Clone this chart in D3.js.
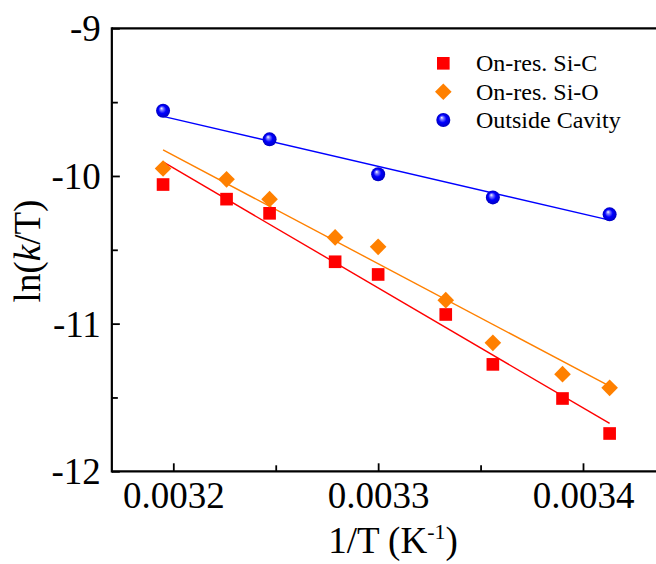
<!DOCTYPE html>
<html>
<head>
<meta charset="utf-8">
<script src="https://cdn.jsdelivr.net/npm/d3@7"></script>
<style>
  html, body { margin: 0; padding: 0; background: #fff; }
  svg { display: block; }
  text { font-family: "Liberation Serif", "Times New Roman", serif; fill: #000; }
</style>
</head>
<body>
<svg id="chart" width="656" height="564"></svg>
<script>
// ---- data ----
const invT = [0.003195, 0.003226, 0.003247, 0.003279, 0.003300, 0.003333, 0.003356, 0.003390, 0.003413];
const siC  = [-10.058, -10.157, -10.253, -10.581, -10.667, -10.938, -11.276, -11.507, -11.744];
const siO  = [-9.949, -10.023, -10.157, -10.416, -10.480, -10.841, -11.130, -11.342, -11.435];
const outsideX = [0.003195, 0.003247, 0.003300, 0.003356, 0.003413];
const outside  = [-9.558, -9.752, -9.988, -10.145, -10.260];
// fitted lines (endpoints)
const fitX = [0.003195, 0.003413];
const fitSiC = [-9.905, -11.676];
const fitSiO = [-9.824, -11.423];
const fitOutside = [-9.596, -10.299];
const xTicks = [0.0032, 0.0033, 0.0034];
const xMinorTicks = [0.00325, 0.00335];
const yTicks = [-9, -10, -11, -12];
const yMinorTicks = [-9.5, -10.5, -11.5];
const seriesNames = ["On-res. Si-C", "On-res. Si-O", "Outside Cavity"];

const svg = d3.select("#chart");
const x = d3.scaleLinear().domain([0.0032, 0.0034]).range([173.3, 583]);
const y = d3.scaleLinear().domain([-9, -12]).range([28.3, 471.3]);
const x0 = x(0.00317), x1 = x(0.003445);
const yTop = y(-9), yBot = y(-12);

const RED = "#FF0000", ORANGE = "#FF8000", BLUE = "#0000FF";

// gradient for 3D balls
const defs = svg.append("defs");
const g = defs.append("radialGradient").attr("id", "ball")
  .attr("cx", "0.5").attr("cy", "0.5").attr("r", "0.5")
  .attr("fx", "0.38").attr("fy", "0.32");
g.append("stop").attr("offset", "0%").attr("stop-color", "#ffffff");
g.append("stop").attr("offset", "22%").attr("stop-color", "#8080ff");
g.append("stop").attr("offset", "55%").attr("stop-color", "#0000ff");
g.append("stop").attr("offset", "100%").attr("stop-color", "#0000c0");

// frame
const frame = svg.append("g").attr("stroke", "#000").attr("stroke-width", 2.2).attr("fill", "none");
frame.append("line").attr("x1", x0).attr("x2", x1).attr("y1", yTop).attr("y2", yTop);
frame.append("line").attr("x1", x0).attr("x2", x1).attr("y1", yBot).attr("y2", yBot);
frame.append("line").attr("x1", x0).attr("x2", x0).attr("y1", yTop - 1.1).attr("y2", yBot + 1.1);

// axes using d3 axis generators, ticks inward
const xAxis = d3.axisBottom(x).tickValues(xTicks).tickSize(-8).tickFormat(d3.format(".4f")).tickSizeOuter(0);
const xg = svg.append("g").attr("transform", `translate(0,${yBot})`).call(xAxis);
xg.select(".domain").remove();
xg.selectAll(".tick line").attr("stroke-width", 1.8);
xg.selectAll(".tick text").attr("font-size", 37).attr("font-family", "Liberation Serif").attr("fill", "#000").attr("y", 10).attr("dy", "0.71em");
const xMinor = d3.axisBottom(x).tickValues(xMinorTicks).tickSize(-6).tickFormat("").tickSizeOuter(0);
const xmg = svg.append("g").attr("transform", `translate(0,${yBot})`).call(xMinor);
xmg.select(".domain").remove();
xmg.selectAll(".tick line").attr("stroke-width", 1.8);

const yAxis = d3.axisLeft(y).tickValues(yTicks).tickSize(-8).tickFormat(d3.format("d")).tickSizeOuter(0);
const yg = svg.append("g").attr("transform", `translate(${x0},0)`).call(yAxis);
yg.select(".domain").remove();
yg.selectAll(".tick line").attr("stroke-width", 1.8);
yg.selectAll(".tick text").attr("font-size", 37).attr("font-family", "Liberation Serif").attr("fill", "#000").attr("x", -11).attr("dy", "0.34em")
  .text(d => String(d).replace("\u2212", "-"));
const yMinor = d3.axisLeft(y).tickValues(yMinorTicks).tickSize(-6).tickFormat("").tickSizeOuter(0);
const ymg = svg.append("g").attr("transform", `translate(${x0},0)`).call(yMinor);
ymg.select(".domain").remove();
ymg.selectAll(".tick line").attr("stroke-width", 1.8);

// axis titles
const xt = svg.append("text").attr("x", 393).attr("y", 553).attr("text-anchor", "middle").attr("font-size", 37);
xt.append("tspan").text("1/T (K");
xt.append("tspan").attr("font-size", 22).attr("dy", -14).text("-1");
xt.append("tspan").attr("dy", 14).text(")");

const yt = svg.append("text").attr("transform", "translate(40,251) rotate(-90)").attr("text-anchor", "middle").attr("font-size", 37);
yt.append("tspan").text("ln(");
yt.append("tspan").attr("font-style", "italic").text("k");
yt.append("tspan").text("/T)");

// fit lines
const line = d3.line().x(d => x(d[0])).y(d => y(d[1]));
const fits = [[fitSiC, RED], [fitSiO, ORANGE], [fitOutside, BLUE]];
fits.forEach(([vals, col]) => {
  svg.append("path").datum(fitX.map((v, i) => [v, vals[i]]))
    .attr("d", line).attr("stroke", col).attr("stroke-width", 1.4).attr("fill", "none");
});

// markers
const sq = d3.symbol().type(d3.symbolSquare).size(160);
const diaPath = d3.symbol().type(d3.symbolSquare).size(138)();
function drawSquare(sel, cx, cy) {
  sel.append("path").attr("d", sq()).attr("transform", `translate(${cx},${cy})`).attr("fill", RED);
}
function drawDiamond(sel, cx, cy) {
  sel.append("path").attr("d", diaPath).attr("transform", `translate(${cx},${cy}) rotate(45)`).attr("fill", ORANGE);
}
function drawBall(sel, cx, cy) {
  sel.append("circle").attr("cx", cx).attr("cy", cy).attr("r", 7).attr("fill", "url(#ball)");
}
const marks = svg.append("g");
invT.forEach((v, i) => drawSquare(marks, x(v), y(siC[i])));
invT.forEach((v, i) => drawDiamond(marks, x(v), y(siO[i])));
outsideX.forEach((v, i) => drawBall(marks, x(v), y(outside[i])));

// legend
const leg = svg.append("g");
const legY = [63.3, 91.7, 120];
drawSquare(leg, 443.3, legY[0]);
drawDiamond(leg, 443.3, legY[1]);
drawBall(leg, 443.3, legY[2]);
seriesNames.forEach((n, i) => {
  leg.append("text").attr("x", 476).attr("y", legY[i]).attr("dy", "0.34em").attr("font-size", 24).text(n);
});
</script>
</body>
</html>
